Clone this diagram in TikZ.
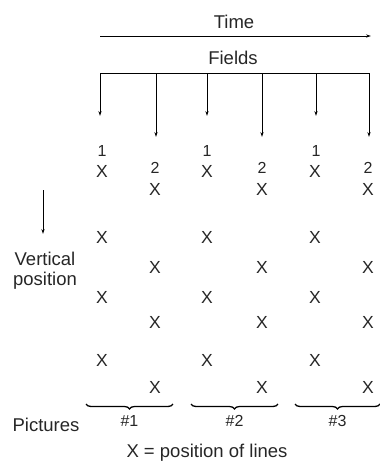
\documentclass[tikz,border=0pt]{standalone}
\usepackage{fontspec}
\setmainfont{Liberation Sans}
\usetikzlibrary{arrows.meta,decorations.pathreplacing}
\begin{document}
\begin{tikzpicture}[x=1pt,y=-1pt,
  lbl/.style={font=\fontsize{18.5}{20}\selectfont, text=black!85, inner sep=0pt},
  xpos/.style={font=\fontsize{17.5}{19}\selectfont, text=black!85, inner sep=0pt},
  num/.style={font=\fontsize{16}{18}\selectfont, text=black!85, inner sep=0pt},
  arr/.style={line width=0.8pt, -{Stealth[length=5pt,width=3.2pt]}},
  ln/.style={line width=0.8pt},
  pbrace/.style={line width=1.3pt, decorate, decoration={brace, mirror, amplitude=5pt}}]
\useasboundingbox (0,0) rectangle (380,466);

% time axis
\node[lbl] (time) at (234,22) {Time};
\coordinate (t0) at (100,36);
\coordinate (t1) at (371,36);
\draw[arr] (t0) -- (t1);

% field comb
\node[lbl] (fields) at (233,58) {Fields};
\foreach \i/\x/\y in {1/100/116, 2/156/137, 3/207/116, 4/262/137, 5/316/116, 6/369/137} {
  \coordinate (f\i) at (\x,73);
  \coordinate (e\i) at (\x,\y);
  \draw[arr] (f\i) -- (e\i);
}
\draw[ln] (f1) -- (f6);

% field numbers
\foreach \i/\x in {1/102, 3/207, 5/316} \node[num] (n\i) at (\x,151) {1};
\foreach \i/\x in {2/155, 4/262, 6/368} \node[num] (n\i) at (\x,168) {2};

% line positions
\foreach \r/\yo/\ye in {1/171/189, 2/237/267, 3/297/322, 4/360/387} {
  \foreach \i/\x in {1/102, 3/207, 5/315} \node[xpos] (x\r-\i) at (\x,\yo) {X};
  \foreach \i/\x in {2/155, 4/262, 6/368} \node[xpos] (x\r-\i) at (\x,\ye) {X};
}

% vertical direction
\coordinate (v0) at (43,190);
\coordinate (v1) at (43,234);
\draw[arr] (v0) -- (v1);
\node[lbl, align=center] (vert) at (45,271) {Vertical\\position};

% pictures
\foreach \i/\a/\b in {1/86/173, 2/191/278, 3/295/380} {
  \coordinate (pa\i) at (\a,404);
  \coordinate (pb\i) at (\b,404);
  \draw[pbrace] (pa\i) -- (pb\i);
  \node[num] (p\i) at ({(\a+\b)/2},421) {\#\i};
}
\node[lbl] (pictures) at (46,425) {Pictures};
\node[lbl] (legend) at (207,453) {X = position of lines};
\end{tikzpicture}
\end{document}
